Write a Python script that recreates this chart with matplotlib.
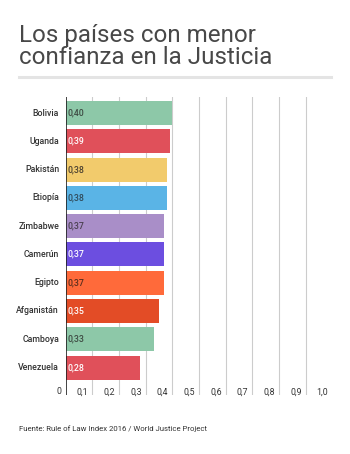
import matplotlib.pyplot as plt
import matplotlib.lines as mlines

plt.rcParams['font.family'] = ['Roboto', 'DejaVu Sans']

countries = ['Bolivia', 'Uganda', 'Pakistán', 'Etiopía', 'Zimbabwe',
             'Camerún', 'Egipto', 'Afganistán', 'Camboya', 'Venezuela']
values = [0.40, 0.39, 0.38, 0.38, 0.37, 0.37, 0.37, 0.35, 0.33, 0.28]
colors = ['#8dc8a8', '#e0505a', '#f2cb6c', '#5ab4e6', '#a98ec8',
          '#6c4ee0', '#ff6a3a', '#e34c26', '#8dc8a8', '#e0505a']
text_colors = ['#3d4a42', 'white', '#4a4030', '#2f4a5a', '#4a4050',
               'white', '#5a2e1e', 'white', '#3d4a42', 'white']
ticks = [0, 0.1, 0.2, 0.3, 0.4, 0.5, 0.6, 0.7, 0.8, 0.9, 1.0]
tick_labels = ['0', '0,1', '0,2', '0,3', '0,4', '0,5', '0,6', '0,7', '0,8', '0,9', '1,0']

W, H = 350, 454
fig = plt.figure(figsize=(W / 100, H / 100), dpi=100)
fig.patch.set_facecolor('white')

# title and separator
fig.text(19 / W, 1 - 64 / H, 'Los países con menor\nconfianza en la Justicia',
         fontsize=17.4, color='#484848', ha='left', va='baseline',
         linespacing=0.97)
fig.add_artist(mlines.Line2D([19 / W, 331 / W], [1 - 77 / H, 1 - 77 / H],
                             color='#e4e4e4', lw=2.2))

ax = fig.add_axes([65.7 / W, 1 - 395 / H, 266.6 / W, 298 / H])
ax.set_xlim(0, 1.0)
ax.set_ylim(9.97, -0.566)
for s in ax.spines.values():
    s.set_visible(False)
ax.set_xticks([])
ax.set_yticks([])

for t in ticks[1:-1]:
    ax.axvline(t, color='#cccccc', lw=0.8, zorder=0)
ax.axvline(0, color='#222222', lw=1.2, zorder=3)

ypos = list(range(len(countries)))
ax.barh(ypos, values, height=0.85, color=colors, zorder=2)

for y, name, v, tc in zip(ypos, countries, values, text_colors):
    ax.text(-0.025, y, name, ha='right', va='center', fontsize=6.3,
            color='#333333', fontweight='medium', clip_on=False)
    ax.text(0.008, y, f'{v:.2f}'.replace('.', ','), ha='left', va='center',
            fontsize=6.3, color=tc, fontweight='medium', zorder=4)

for t, lab in zip(ticks, tick_labels):
    ax.text(t - 0.015, 9.86, lab, ha='right', va='center', fontsize=6.3,
            color='#333333', clip_on=False)

fig.text(19 / W, 1 - 429 / H, 'Fuente: Rule of Law Index 2016 / World Justice Project',
         fontsize=5.6, color='#333333', ha='left', va='center')

fig.savefig('out.png', dpi=100, facecolor='white')
